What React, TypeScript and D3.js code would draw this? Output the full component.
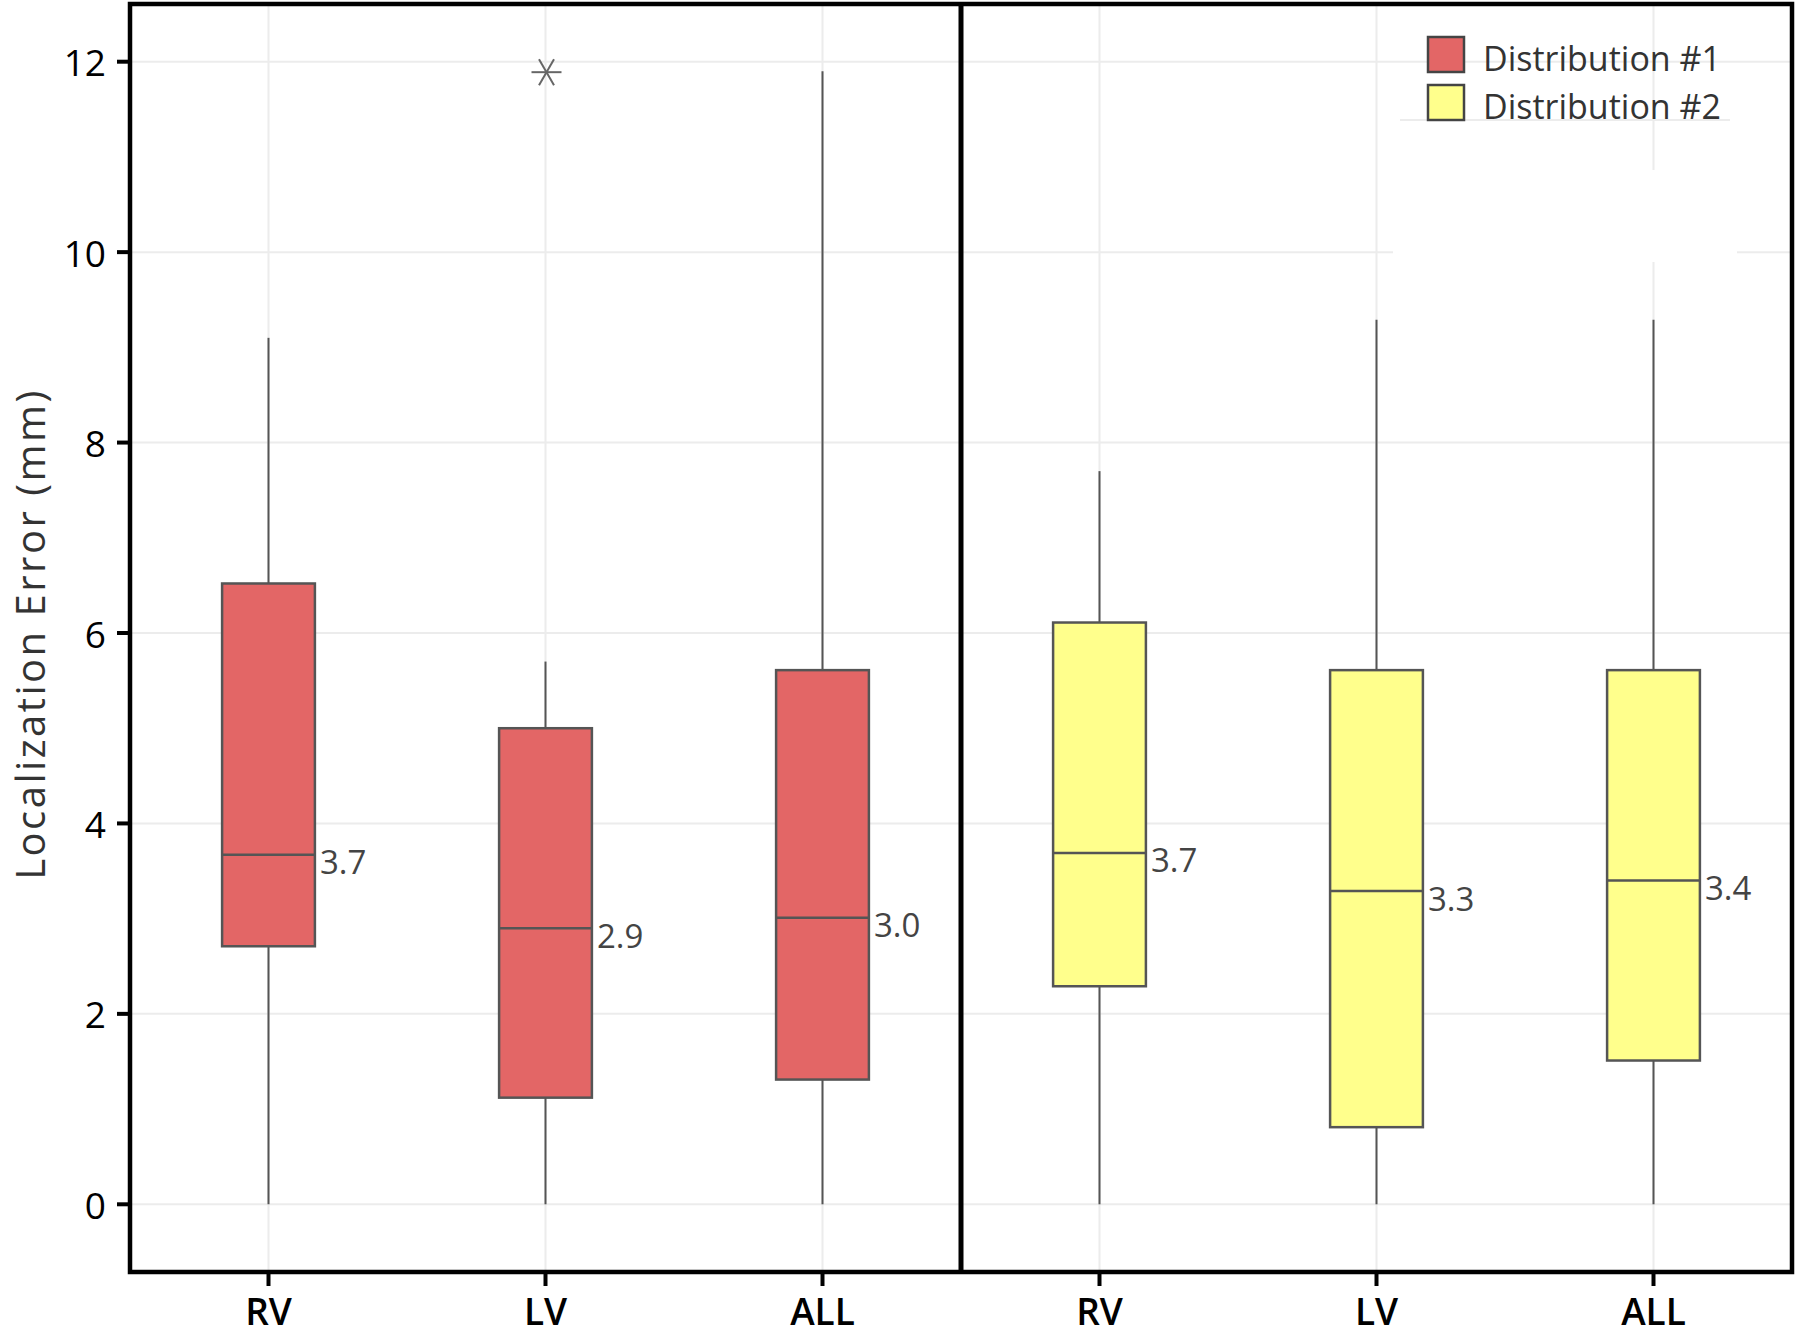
import React from "react";
import * as d3 from "d3";

const categories = ["RV", "LV", "ALL"];
const groupNames = ["Distribution #1", "Distribution #2"];
const groupColors = ["#e36666", "#ffff8c"];

// group 1 (Distribution #1)
const low1 = [0, 0, 0];
const q1_1 = [2.71, 1.12, 1.31];
const med1 = [3.67, 2.9, 3.01];
const q3_1 = [6.52, 5.0, 5.61];
const high1 = [9.1, 5.7, 11.9];

// group 2 (Distribution #2)
const low2 = [0, 0, 0];
const q1_2 = [2.29, 0.81, 1.51];
const med2 = [3.69, 3.29, 3.4];
const q3_2 = [6.11, 5.61, 5.61];
const high2 = [7.7, 9.29, 9.29];

// outliers: [groupIndex, categoryIndex, value]
const outliers: [number, number, number][] = [[0, 1, 11.89]];

const yTicks = [0, 2, 4, 6, 8, 10, 12];

const W = 1800;
const H = 1326;
const plotLeft = 130;
const plotRight = 1792;
const plotTop = 4;
const plotBottom = 1272;

export default function App() {
  const keys: string[] = [];
  groupNames.forEach((g, gi) => categories.forEach((c) => keys.push(gi + "|" + c)));

  const x = d3.scaleBand<string>().domain(keys).range([plotLeft, plotRight]).paddingInner(0).paddingOuter(0);
  const y = d3.scaleLinear().domain([0, 12]).range([1204.3, 61.7]);
  const boxW = x.bandwidth() * 0.335;

  const groupsData = [
    { low: low1, q1: q1_1, med: med1, q3: q3_1, high: high1 },
    { low: low2, q1: q1_2, med: med2, q3: q3_2, high: high2 },
  ];

  const boxes: any[] = [];
  groupsData.forEach((g, gi) =>
    categories.forEach((c, ci) => {
      const key = gi + "|" + c;
      boxes.push({
        key,
        cx: (x(key) as number) + x.bandwidth() / 2,
        gi,
        low: g.low[ci],
        q1: g.q1[ci],
        med: g.med[ci],
        q3: g.q3[ci],
        high: g.high[ci],
      });
    })
  );

  const dividerX = x("1|RV") as number;
  const font = "'Open Sans', 'DejaVu Sans', sans-serif";

  return (
    <svg
      width={W}
      height={H}
      style={{ position: "absolute", left: 0, top: 0, background: "#fff" }}
      fontFamily={font}
    >
      <rect x={0} y={0} width={W} height={H} fill="#fff" />
      {/* gridlines */}
      {yTicks.map((t) => (
        <line key={"gy" + t} x1={plotLeft} x2={plotRight} y1={y(t)} y2={y(t)} stroke="#ececec" strokeWidth={2} />
      ))}
      {boxes.map((b) => (
        <line key={"gx" + b.key} x1={b.cx} x2={b.cx} y1={plotTop} y2={plotBottom} stroke="#ececec" strokeWidth={2} />
      ))}
      {/* legend background artifact */}
      <rect x={1393} y={170} width={344} height={92} fill="#fff" />
      <line x1={1400} x2={1730} y1={120} y2={120} stroke="#ececec" strokeWidth={2} />

      {/* boxes */}
      {boxes.map((b) => (
        <g key={b.key}>
          <line x1={b.cx} x2={b.cx} y1={y(b.q3)} y2={y(b.high)} stroke="#555" strokeWidth={2} />
          <line x1={b.cx} x2={b.cx} y1={y(b.low)} y2={y(b.q1)} stroke="#555" strokeWidth={2} />
          <rect
            x={b.cx - boxW / 2}
            y={y(b.q3)}
            width={boxW}
            height={y(b.q1) - y(b.q3)}
            fill={groupColors[b.gi]}
            stroke="#555"
            strokeWidth={2.5}
          />
          <line x1={b.cx - boxW / 2} x2={b.cx + boxW / 2} y1={y(b.med)} y2={y(b.med)} stroke="#555" strokeWidth={2.5} />
          <text
            x={b.cx + boxW / 2 + 5}
            y={y(b.med) + 7}
            dominantBaseline="central"
            fontSize={33}
            fill="#444"
          >
            {b.med.toFixed(1)}
          </text>
        </g>
      ))}

      {/* outliers (asterisk) */}
      {outliers.map(([gi, ci, v], i) => {
        const key = gi + "|" + categories[ci];
        const cx = (x(key) as number) + x.bandwidth() / 2 + 1;
        const cy = y(v);
        const r = 15;
        return (
          <g key={"o" + i} stroke="#666" strokeWidth={2}>
            {[0, 60, 120].map((a) => {
              const rad = (a * Math.PI) / 180;
              return (
                <line
                  key={a}
                  x1={cx - r * Math.cos(rad)}
                  y1={cy - r * Math.sin(rad)}
                  x2={cx + r * Math.cos(rad)}
                  y2={cy + r * Math.sin(rad)}
                />
              );
            })}
          </g>
        );
      })}

      {/* legend */}
      {groupNames.map((g, i) => (
        <g key={g}>
          <rect x={1428} y={37 + i * 48} width={36} height={35} fill={groupColors[i]} stroke="#444" strokeWidth={2.5} />
          <text x={1483} y={71 + i * 48} fontSize={34} fill="#333">
            {g}
          </text>
        </g>
      ))}

      {/* frame */}
      <rect
        x={plotLeft}
        y={plotTop}
        width={plotRight - plotLeft}
        height={plotBottom - plotTop}
        fill="none"
        stroke="#000"
        strokeWidth={4.5}
      />
      <line x1={dividerX} x2={dividerX} y1={plotTop} y2={plotBottom} stroke="#000" strokeWidth={5} />

      {/* y axis ticks */}
      {yTicks.map((t) => (
        <g key={"yt" + t}>
          <line x1={plotLeft - 13} x2={plotLeft} y1={y(t)} y2={y(t)} stroke="#000" strokeWidth={4} />
          <text x={106} y={y(t)} textAnchor="end" dominantBaseline="central" fontSize={37} fontWeight={500} fill="#000">
            {t}
          </text>
        </g>
      ))}
      {/* x axis ticks */}
      {boxes.map((b, i) => (
        <g key={"xt" + b.key}>
          <line x1={b.cx} x2={b.cx} y1={plotBottom} y2={plotBottom + 14} stroke="#000" strokeWidth={4} />
          <text x={b.cx} y={1325} textAnchor="middle" fontSize={37} fontWeight={600} fill="#000">
            {categories[i % 3]}
          </text>
        </g>
      ))}

      {/* y axis title */}
      <text
        transform={`translate(45, 634) rotate(-90)`}
        textAnchor="middle"
        fontSize={40}
        letterSpacing={2.5}
        fill="#333"
      >
        Localization Error (mm)
      </text>
    </svg>
  );
}
